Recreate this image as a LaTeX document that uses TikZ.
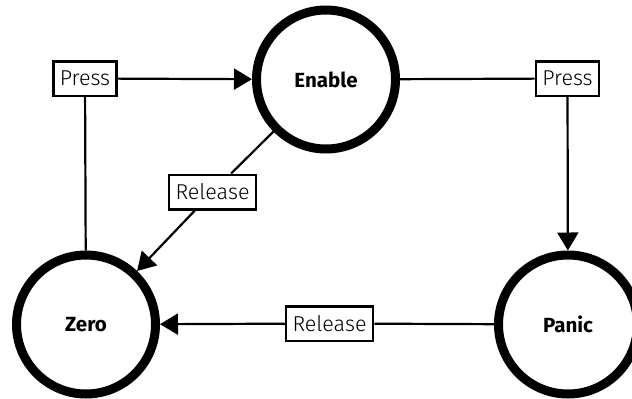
\documentclass[tikz,border=0pt]{standalone}
\usepackage{fontspec}
\setmainfont{Fira Sans}
\newfontfamily\lightfont{Fira Sans Light}
\usetikzlibrary{arrows.meta}
\begin{document}
\begin{tikzpicture}[x=1pt,y=-1pt,
  state/.style={circle,draw,line width=9pt,minimum size=139pt,inner sep=0pt,
    font=\fontsize{20.5}{20.5}\selectfont\bfseries},
  trigger/.style={draw,fill=white,line width=2.5pt,inner xsep=6.5pt,inner ysep=0pt,
    minimum height=34.5pt,font=\fontsize{21.5}{21.5}\lightfont},
  wire/.style={line width=2.2pt},
  go/.style={wire,-{Triangle[length=18pt,width=21pt]}}]
  \useasboundingbox (0,0) rectangle (632,399);
  \node[state] (enable) at (326,79.5) {Enable};
  \node[state] (zero) at (86,324.5) {Zero};
  \node[state] (panic) at (568,324.5) {Panic};
  \node[trigger] (pressL) at (85,78.5) {Press};
  \node[trigger] (pressR) at (567.5,78.5) {Press};
  \node[trigger] (releaseD) at (212.5,192) {Release};
  \node[trigger] (releaseB) at (329.5,323.5) {Release};
  \draw[wire] (zero) -- (pressL);
  \draw[go] (pressL) -- (enable);
  \draw[wire] (enable) -- (pressR);
  \draw[go] (pressR) -- (panic);
  \draw[wire] (enable) -- (releaseD);
  \draw[go] (releaseD) -- (zero);
  \draw[wire] (panic) -- (releaseB);
  \draw[go] (releaseB) -- (zero);
\end{tikzpicture}
\end{document}
